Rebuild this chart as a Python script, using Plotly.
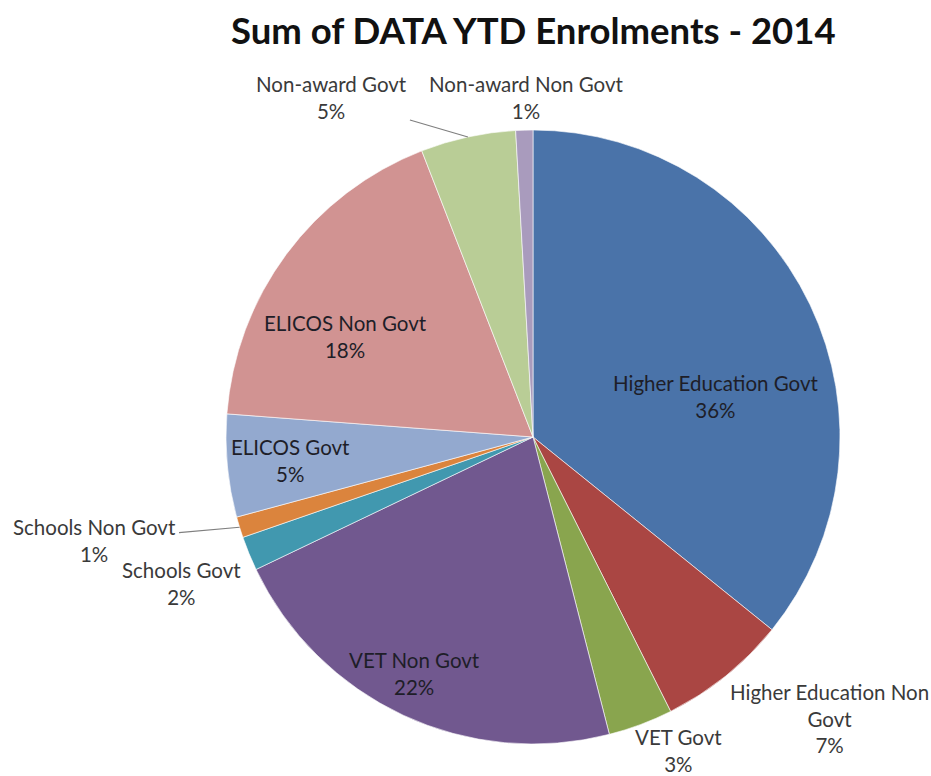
import math
import plotly.graph_objects as go

# ---- data ----
categories = ["Higher Education Govt", "Higher Education Non Govt", "VET Govt", "VET Non Govt",
              "Schools Govt", "Schools Non Govt", "ELICOS Govt", "ELICOS Non Govt",
              "Non-award Govt", "Non-award Non Govt"]
values = [35.8, 6.8, 3.4, 21.9, 1.8, 1.1, 5.4, 17.9, 5.0, 0.9]
colors = ["#4A73A9", "#AA4643", "#89A54E", "#71588F", "#4198AF",
          "#DB843D", "#93A9CF", "#D19392", "#B9CD96", "#A99BBD"]
title = "Sum of DATA YTD Enrolments - 2014"

# ---- layout geometry (pixels) ----
W, H = 931, 776
CX, CY, R = 533, 437, 307

def px(x):
    return x / W

def py(y):
    return 1 - y / H

fig = go.Figure(go.Pie(
    labels=categories, values=values, sort=False, direction="clockwise", rotation=0,
    marker=dict(colors=colors, line=dict(color="white", width=0.6)),
    textinfo="none", hoverinfo="label+percent", showlegend=False,
    domain=dict(x=[px(CX - R), px(CX + R)], y=[py(CY + R), py(CY - R)]),
))

total = sum(values)
pcts = [round(v / total * 100) for v in values]

# label centers (pixels) and line-break style
label_pos = {
    "Higher Education Govt": (715, 396, None),
    "Higher Education Non Govt": (829, 718, "Higher Education Non<br>Govt"),
    "VET Govt": (678, 750, None),
    "VET Non Govt": (414, 673, None),
    "Schools Govt": (181, 583, None),
    "Schools Non Govt": (94, 540, None),
    "ELICOS Govt": (290, 460, None),
    "ELICOS Non Govt": (345, 336, None),
    "Non-award Govt": (331, 97, None),
    "Non-award Non Govt": (526, 97, None),
}
inside = {"Higher Education Govt", "VET Non Govt", "ELICOS Govt", "ELICOS Non Govt"}
leaders = {"Non-award Govt", "Schools Non Govt"}

FONT = "Lato, Carlito, Calibri, sans-serif"
LSIZE = 20.5

annotations = []
cum = 0.0
for cat, v, p in zip(categories, values, pcts):
    mid = (cum + v / 2) / total * 2 * math.pi
    cum += v
    lx, ly, txt = label_pos[cat]
    text = (txt if txt else cat) + f"<br>{p}%"
    col = "#1E1E28" if cat in inside else "#3A3A3A"
    if cat in leaders:
        ex = CX + R * math.sin(mid)
        ey = CY - R * math.cos(mid)
        annotations.append(dict(
            x=px(ex), y=py(ey), xref="paper", yref="paper", text=text,
            showarrow=True, arrowhead=0, arrowwidth=1.2, arrowcolor="#7F7F7F",
            ax=lx - ex, ay=ly - ey, standoff=0, startstandoff=2,
            font=dict(family=FONT, size=LSIZE, color=col),
            align="center"))
    else:
        annotations.append(dict(
            x=px(lx), y=py(ly), xref="paper", yref="paper", text=text, showarrow=False,
            xanchor="center", yanchor="middle",
            font=dict(family=FONT, size=LSIZE, color=col),
            align="center"))

annotations.append(dict(
    x=px(533), y=py(30), xref="paper", yref="paper", text=f"<b>{title}</b>", showarrow=False,
    xanchor="center", yanchor="middle",
    font=dict(family=FONT, size=36.5, color="#111111")))

fig.update_layout(
    width=W, height=H, margin=dict(l=0, r=0, t=0, b=0),
    paper_bgcolor="white", plot_bgcolor="white",
    annotations=annotations,
)

fig.write_html("out.html")
